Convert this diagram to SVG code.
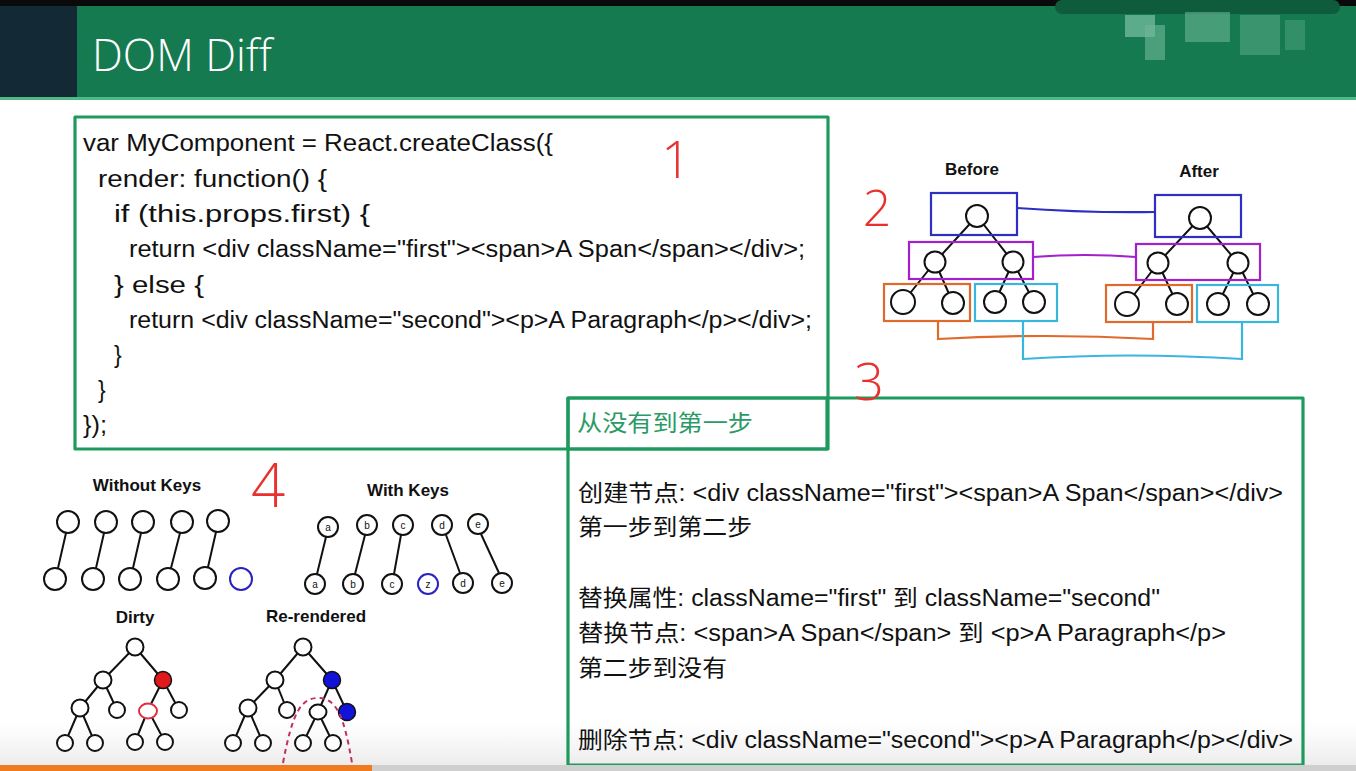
<svg xmlns="http://www.w3.org/2000/svg" width="1356" height="771" viewBox="0 0 1356 771">
<defs>
<style>
.bg{fill:#ffffff}
.gbox{fill:none;stroke:#1f9a5e;stroke-width:3.2;stroke-linejoin:round}
.code{font-family:"Liberation Sans","Noto Sans CJK SC",sans-serif;font-size:23px;fill:#111}
.cjk{font-family:"Liberation Sans","Noto Sans CJK SC",sans-serif;font-size:23px;fill:#111}
.ttl{font-family:"Liberation Sans","Noto Sans CJK SC",sans-serif;font-size:23px;fill:#2a9a66}
.red{font-family:"Open Sans","Liberation Sans",sans-serif;font-weight:300;fill:#e8302f;text-anchor:middle}
.hand{font-family:"Liberation Sans",sans-serif;font-size:17px;fill:#111;text-anchor:middle;font-weight:bold}
.n{fill:#fff;stroke:#111;stroke-width:2}
.e{stroke:#111;stroke-width:2;fill:none}
.lbl{font-family:"Liberation Sans",sans-serif;font-size:10px;fill:#111;text-anchor:middle}
</style>
<linearGradient id="fade" x1="0" y1="0" x2="0" y2="1">
<stop offset="0" stop-color="#e6e6e6" stop-opacity="0"/>
<stop offset="1" stop-color="#d8d8d8" stop-opacity="0.5"/>
</linearGradient>
</defs>
<rect class="bg" x="0" y="0" width="1356" height="771"/>
<rect x="0" y="720" width="1356" height="45" fill="url(#fade)"/>

<!-- header -->
<g id="header">
<rect x="0" y="0" width="1356" height="7" fill="#0a0a0a"/>
<rect x="0" y="6" width="1356" height="92" fill="#157a50"/>
<rect x="0" y="6" width="77" height="92" fill="#132a36"/>
<rect x="0" y="97" width="1356" height="3" fill="#4fb98a"/>
<rect x="1055" y="0" width="285" height="14" rx="7" fill="#0f5c3c"/>
<rect x="1125" y="15" width="30" height="22" fill="#8ccbb0" opacity="0.6"/>
<rect x="1145" y="25" width="20" height="35" fill="#6fb896" opacity="0.6"/>
<rect x="1185" y="12" width="45" height="30" fill="#7cc0a2" opacity="0.5"/>
<rect x="1240" y="15" width="40" height="40" fill="#5fae8a" opacity="0.5"/>
<rect x="1285" y="20" width="20" height="30" fill="#5fae8a" opacity="0.4"/>
<text x="92" y="71" font-family="'Open Sans','Liberation Sans',sans-serif" font-weight="300" font-size="44" fill="#ffffff" textLength="180" lengthAdjust="spacingAndGlyphs">DOM Diff</text>
</g>

<!-- code box -->
<g id="code-box">
<rect class="gbox" x="75" y="117" width="753" height="332"/>
<text class="code" x="83" y="151" textLength="470" lengthAdjust="spacingAndGlyphs">var MyComponent = React.createClass({</text>
<text class="code" x="98" y="187" textLength="229" lengthAdjust="spacingAndGlyphs">render: function() {</text>
<text class="code" x="114" y="222" textLength="256" lengthAdjust="spacingAndGlyphs">if (this.props.first) {</text>
<text class="code" x="129" y="257" textLength="676" lengthAdjust="spacingAndGlyphs">return &lt;div className="first"&gt;&lt;span&gt;A Span&lt;/span&gt;&lt;/div&gt;;</text>
<text class="code" x="114" y="293" textLength="90" lengthAdjust="spacingAndGlyphs">} else {</text>
<text class="code" x="129" y="328" textLength="683" lengthAdjust="spacingAndGlyphs">return &lt;div className="second"&gt;&lt;p&gt;A Paragraph&lt;/p&gt;&lt;/div&gt;;</text>
<text class="code" x="114" y="363">}</text>
<text class="code" x="98" y="398">}</text>
<text class="code" x="83" y="433" textLength="24" lengthAdjust="spacingAndGlyphs">});</text>
</g>

<!-- steps box -->
<g id="steps-box">
<rect class="gbox" x="568" y="398" width="735" height="367"/>
<rect class="gbox" x="568" y="398" width="259" height="51"/>
<text class="ttl" x="577" y="431" textLength="176" lengthAdjust="spacingAndGlyphs">从没有到第一步</text>
<text class="cjk" x="578" y="501" textLength="705" lengthAdjust="spacingAndGlyphs">创建节点: &lt;div className="first"&gt;&lt;span&gt;A Span&lt;/span&gt;&lt;/div&gt;</text>
<text class="cjk" x="578" y="535" textLength="174" lengthAdjust="spacingAndGlyphs">第一步到第二步</text>
<text class="cjk" x="578" y="606" textLength="582" lengthAdjust="spacingAndGlyphs">替换属性: className="first" 到 className="second"</text>
<text class="cjk" x="578" y="641" textLength="648" lengthAdjust="spacingAndGlyphs">替换节点: &lt;span&gt;A Span&lt;/span&gt; 到 &lt;p&gt;A Paragraph&lt;/p&gt;</text>
<text class="cjk" x="578" y="676" textLength="149" lengthAdjust="spacingAndGlyphs">第二步到没有</text>
<text class="cjk" x="578" y="748" textLength="715" lengthAdjust="spacingAndGlyphs">删除节点: &lt;div className="second"&gt;&lt;p&gt;A Paragraph&lt;/p&gt;&lt;/div&gt;</text>
</g>

<!-- red annotations -->
<g id="annotations">
<text class="red" x="676" y="178" font-size="52">1</text>
<text class="red" x="877" y="226" font-size="50">2</text>
<text class="red" x="869" y="400" font-size="52">3</text>
<text class="red" x="268" y="507" font-size="60">4</text>
</g>

<!-- before/after tree diagram -->
<g id="before-after">
<text class="hand" x="972" y="175">Before</text>
<text class="hand" x="1199" y="177">After</text>
<g id="ba-connectors">
<path d="M1017 208 Q1085 213 1155 212" fill="none" stroke="#2d2fc4" stroke-width="2.2"/>
<path d="M1033 257 Q1085 253 1136 257" fill="none" stroke="#a51fcc" stroke-width="2.2"/>
<path d="M938 321 V339 Q1045 333 1153 339 V322" fill="none" stroke="#e06a2c" stroke-width="2.2"/>
<path d="M1023 321 V359 Q1130 352 1242 359 V322" fill="none" stroke="#3ab6de" stroke-width="2.2"/>
<path class="e" d="M977 216 L935 262 M977 216 L1013 262 M935 262 L903 302 M935 262 L953 303 M1013 262 L995 302 M1013 262 L1034 302"/>
<path class="e" d="M1200 218 L1158 263 M1200 218 L1238 263 M1158 263 L1127 304 M1158 263 L1177 304 M1238 263 L1218 304 M1238 263 L1258 304"/>
</g>
<rect x="931" y="193" width="86" height="42" fill="none" stroke="#2d2fc4" stroke-width="2.2"/>
<rect x="1155" y="195" width="86" height="42" fill="none" stroke="#2d2fc4" stroke-width="2.2"/>
<rect x="909" y="242" width="124" height="37" fill="none" stroke="#a51fcc" stroke-width="2.2"/>
<rect x="1136" y="244" width="124" height="36" fill="none" stroke="#a51fcc" stroke-width="2.2"/>
<rect x="884" y="284" width="86" height="37" fill="none" stroke="#e06a2c" stroke-width="2.2"/>
<rect x="975" y="284" width="82" height="37" fill="none" stroke="#3ab6de" stroke-width="2.2"/>
<rect x="1106" y="285" width="86" height="37" fill="none" stroke="#e06a2c" stroke-width="2.2"/>
<rect x="1197" y="285" width="81" height="37" fill="none" stroke="#3ab6de" stroke-width="2.2"/>
<circle class="n" cx="977" cy="216" r="11"/>
<circle class="n" cx="935" cy="262" r="10.5"/>
<circle class="n" cx="1013" cy="262" r="10.5"/>
<circle class="n" cx="903" cy="302" r="12"/>
<circle class="n" cx="953" cy="303" r="11"/>
<circle class="n" cx="995" cy="302" r="11"/>
<circle class="n" cx="1034" cy="302" r="11"/>
<circle class="n" cx="1200" cy="218" r="11"/>
<circle class="n" cx="1158" cy="263" r="10.5"/>
<circle class="n" cx="1238" cy="263" r="10.5"/>
<circle class="n" cx="1127" cy="304" r="12"/>
<circle class="n" cx="1177" cy="304" r="11"/>
<circle class="n" cx="1218" cy="304" r="11"/>
<circle class="n" cx="1258" cy="304" r="11"/>
</g>

<!-- without keys -->
<g id="without-keys">
<text class="hand" x="147" y="491">Without Keys</text>
<path class="e" d="M66 533 L58 568 M104 533 L96 568 M141 533 L133 568 M180 533 L171 568 M216 532 L208 567"/>
<circle class="n" cx="68" cy="522" r="11"/>
<circle class="n" cx="106" cy="522" r="11"/>
<circle class="n" cx="143" cy="522" r="11"/>
<circle class="n" cx="182" cy="522" r="11"/>
<circle class="n" cx="218" cy="521" r="11"/>
<circle class="n" cx="55" cy="579" r="11"/>
<circle class="n" cx="93" cy="579" r="11"/>
<circle class="n" cx="130" cy="579" r="11"/>
<circle class="n" cx="168" cy="579" r="11"/>
<circle class="n" cx="205" cy="578" r="11"/>
<circle cx="241" cy="579" r="11" fill="#fff" stroke="#2a22c0" stroke-width="2"/>
</g>

<!-- with keys -->
<g id="with-keys">
<text class="hand" x="408" y="496">With Keys</text>
<path class="e" d="M326 537 L317 574 M365 535 L355 574 M401 535 L394 574 M446 535 L460 573 M481 534 L499 573"/>
<circle class="n" cx="328" cy="527" r="10"/>
<circle class="n" cx="367" cy="525" r="10"/>
<circle class="n" cx="403" cy="525" r="10"/>
<circle class="n" cx="442" cy="525" r="10"/>
<circle class="n" cx="478" cy="524" r="10"/>
<circle class="n" cx="315" cy="584" r="10"/>
<circle class="n" cx="353" cy="584" r="10"/>
<circle class="n" cx="392" cy="584" r="10"/>
<circle cx="428" cy="584" r="10" fill="#fff" stroke="#2a22c0" stroke-width="2"/>
<circle class="n" cx="463" cy="583" r="10"/>
<circle class="n" cx="502" cy="583" r="10"/>
<text class="lbl" x="328" y="531">a</text>
<text class="lbl" x="367" y="529">b</text>
<text class="lbl" x="403" y="529">c</text>
<text class="lbl" x="442" y="529">d</text>
<text class="lbl" x="478" y="528">e</text>
<text class="lbl" x="315" y="588">a</text>
<text class="lbl" x="353" y="588">b</text>
<text class="lbl" x="392" y="588">c</text>
<text class="lbl" x="428" y="588">z</text>
<text class="lbl" x="463" y="587">d</text>
<text class="lbl" x="502" y="587">e</text>
</g>

<!-- dirty -->
<g id="dirty">
<text class="hand" x="135" y="623" font-size="15">Dirty</text>
<path class="e" d="M135 647 L103 680 M135 647 L163 680 M103 680 L80 708 M103 680 L117 710 M163 680 L148 710 M163 680 L179 710 M80 708 L65 743 M80 708 L95 743 M148 710 L135 742 M148 710 L165 742"/>
<circle class="n" cx="135" cy="647" r="8.5"/>
<circle class="n" cx="103" cy="680" r="8.5"/>
<circle cx="163" cy="680" r="8.5" fill="#e01a1a" stroke="#111" stroke-width="1.5"/>
<circle class="n" cx="80" cy="708" r="8.5"/>
<circle class="n" cx="117" cy="710" r="8"/>
<ellipse cx="148" cy="711" rx="9" ry="7.5" fill="#fff" stroke="#e03040" stroke-width="2"/>
<circle class="n" cx="179" cy="710" r="8"/>
<circle class="n" cx="65" cy="743" r="8"/>
<circle class="n" cx="95" cy="743" r="8"/>
<circle class="n" cx="135" cy="742" r="8"/>
<circle class="n" cx="165" cy="742" r="8"/>
</g>

<!-- re-rendered -->
<g id="rerendered">
<text class="hand" x="316" y="622" font-size="15">Re-rendered</text>
<path class="e" d="M303 647 L275 680 M303 647 L332 680 M275 680 L248 708 M275 680 L287 710 M332 680 L318 712 M332 680 L347 712 M248 708 L233 743 M248 708 L263 743 M318 712 L303 743 M318 712 L333 743"/>
<circle class="n" cx="303" cy="647" r="8.5"/>
<circle class="n" cx="275" cy="680" r="8.5"/>
<circle cx="332" cy="680" r="8.5" fill="#1212d8" stroke="#111" stroke-width="1.5"/>
<circle class="n" cx="248" cy="708" r="8.5"/>
<circle class="n" cx="287" cy="710" r="8"/>
<ellipse class="n" cx="318" cy="712" rx="8.5" ry="7.5"/>
<circle cx="347" cy="712" r="8.5" fill="#1212d8" stroke="#111" stroke-width="1.5"/>
<circle class="n" cx="233" cy="743" r="8"/>
<circle class="n" cx="263" cy="743" r="8"/>
<circle class="n" cx="303" cy="743" r="8"/>
<circle class="n" cx="333" cy="743" r="8"/>
<path d="M283 763 C292 715 300 698 318 698 C336 698 344 715 352 763" fill="none" stroke="#c0305a" stroke-width="2" stroke-dasharray="5 4"/>
</g>

<!-- bottom video bar -->
<rect x="0" y="765" width="1356" height="6" fill="#cfcfcf"/>
<rect x="0" y="765" width="372" height="6" fill="#f07a1e"/>
</svg>
